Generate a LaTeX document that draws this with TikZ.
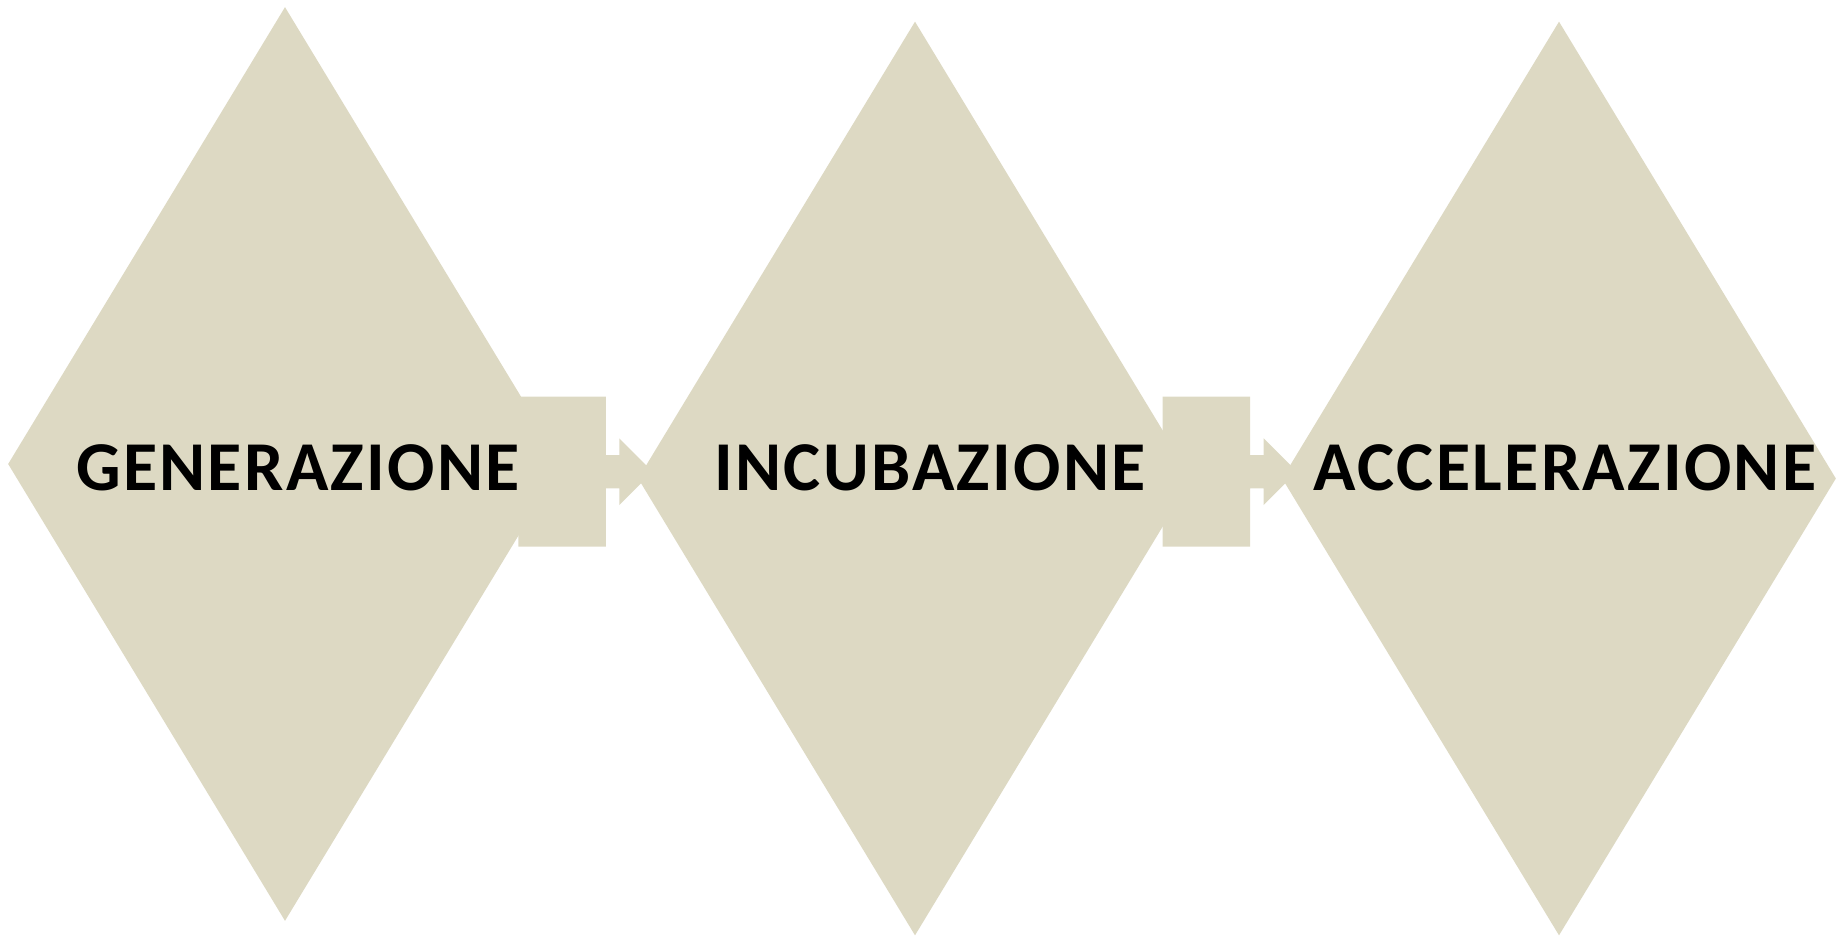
\documentclass[tikz,border=0pt]{standalone}
\usepackage{fontspec}
\setmainfont{Carlito}
\newfontfamily\stagefont[LetterSpace=3.3]{Carlito}
\usetikzlibrary{shapes.geometric}
\definecolor{phasetan}{HTML}{DDD9C3}
\tikzstyle{phase}=[diamond,fill=phasetan,draw=none,minimum width=277pt,minimum height=457pt,inner sep=0pt]
\tikzstyle{stage}=[font=\stagefont\bfseries\fontsize{35}{40}\selectfont,inner sep=0pt]
\tikzstyle{flow}=[fill=phasetan,draw=none]

\begin{document}
\begin{tikzpicture}[x=0.5pt,y=-0.5pt]
	\useasboundingbox (0,0) rectangle (1841,936);
	\foreach \nr/\x/\y in {1/285/464, 2/915/478.5, 3/1559/478.5}{
		\node (D\nr)[phase] at (\x,\y) {};
	}
	\foreach \nr/\x in {1/518.3, 2/1162.7}{
		\coordinate (A\nr) at (\x,471.7);
		\path[flow] (A\nr) ++(0,-75) -- ++(87.5,0) -- ++(0,58.3) -- ++(13.5,0) -- ++(0,-16.6)
			-- ++(33.3,33.3) -- ++(-33.3,33.3) -- ++(0,-16.6) -- ++(-13.5,0) -- ++(0,58.3)
			-- ++(-87.5,0) -- cycle;
	}
	\node (T1)[stage] at (298,467.5) {GENERAZIONE};
	\node (T2)[stage] at (930,467.5) {INCUBAZIONE};
	\node (T3)[stage] at (1565,467.5) {ACCELERAZIONE};
\end{tikzpicture}
\end{document}
